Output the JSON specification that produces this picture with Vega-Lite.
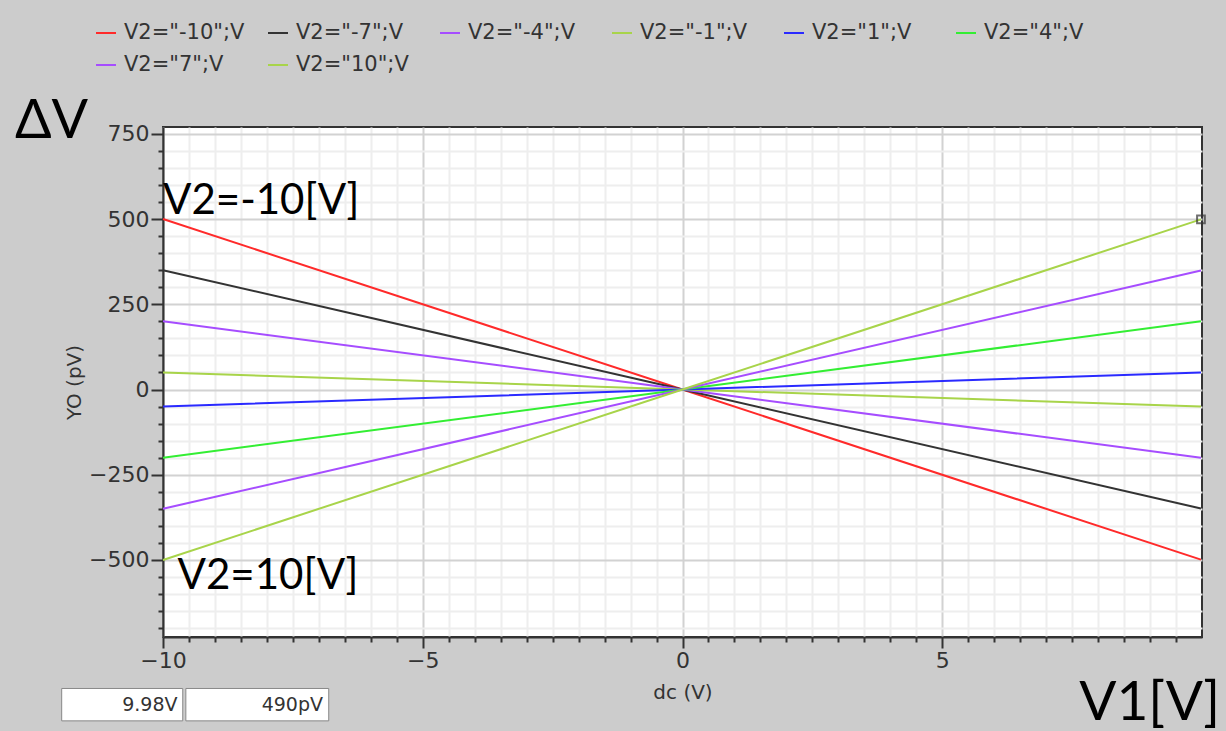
{
  "$schema": "https://vega.github.io/schema/vega-lite/v6.json",
  "autosize": {"type": "none"},
  "width": 1039,
  "height": 510,
  "padding": {"left": 163, "top": 127, "right": 24, "bottom": 94},
  "background": "#cccccc",
  "config": {
    "view": {"fill": "white", "stroke": "#333333", "strokeWidth": 2},
    "axis": {
      "labelFont": "DejaVu Sans", "labelFontSize": 22, "labelColor": "#333333",
      "titleFont": "DejaVu Sans", "titleFontSize": 20, "titleFontWeight": "normal", "titleColor": "#333333",
      "domainColor": "#333333", "domainWidth": 2, "tickColor": "#333333", "tickWidth": 2,
      "labelOverlap": false, "labelFlush": false
    },
    "legend": {
      "orient": "none", "legendX": -68, "legendY": -105, "columns": 6, "direction": "horizontal",
      "gridAlign": "all", "padding": 0, "symbolType": "stroke", "symbolStrokeWidth": 2, "symbolSize": 400,
      "labelFont": "DejaVu Sans", "labelFontSize": 21, "labelColor": "#333333", "labelOffset": 7,
      "columnPadding": 19, "rowPadding": 11, "labelLimit": 300
    }
  },
  "data": {"values": [
    {"series": "V2=\"-10\";V", "V1": -10, "dV": 500}, {"series": "V2=\"-10\";V", "V1": 0, "dV": 0}, {"series": "V2=\"-10\";V", "V1": 9.98, "dV": -499},
    {"series": "V2=\"-7\";V", "V1": -10, "dV": 350}, {"series": "V2=\"-7\";V", "V1": 0, "dV": 0}, {"series": "V2=\"-7\";V", "V1": 9.98, "dV": -349},
    {"series": "V2=\"-4\";V", "V1": -10, "dV": 200}, {"series": "V2=\"-4\";V", "V1": 0, "dV": 0}, {"series": "V2=\"-4\";V", "V1": 9.98, "dV": -200},
    {"series": "V2=\"-1\";V", "V1": -10, "dV": 50}, {"series": "V2=\"-1\";V", "V1": 0, "dV": 0}, {"series": "V2=\"-1\";V", "V1": 9.98, "dV": -50},
    {"series": "V2=\"1\";V", "V1": -10, "dV": -50}, {"series": "V2=\"1\";V", "V1": 0, "dV": 0}, {"series": "V2=\"1\";V", "V1": 9.98, "dV": 50},
    {"series": "V2=\"4\";V", "V1": -10, "dV": -200}, {"series": "V2=\"4\";V", "V1": 0, "dV": 0}, {"series": "V2=\"4\";V", "V1": 9.98, "dV": 200},
    {"series": "V2=\"7\";V", "V1": -10, "dV": -350}, {"series": "V2=\"7\";V", "V1": 0, "dV": 0}, {"series": "V2=\"7\";V", "V1": 9.98, "dV": 349},
    {"series": "V2=\"10\";V", "V1": -10, "dV": -500}, {"series": "V2=\"10\";V", "V1": 0, "dV": 0}, {"series": "V2=\"10\";V", "V1": 9.98, "dV": 499}
  ]},
  "layer": [
    {
      "mark": {"type": "line", "strokeWidth": 2},
      "encoding": {
        "x": {"field": "V1", "type": "quantitative",
          "scale": {"domain": [-10, 10], "nice": false, "zero": false},
          "axis": {"title": "dc (V)", "titlePadding": 11, "labelPadding": 2, "labelOverlap": false, "tickCount": 500, "format": ".0f",
            "values": [-10,-9.5,-9,-8.5,-8,-7.5,-7,-6.5,-6,-5.5,-5,-4.5,-4,-3.5,-3,-2.5,-2,-1.5,-1,-0.5,0,0.5,1,1.5,2,2.5,3,3.5,4,4.5,5,5.5,6,6.5,7,7.5,8,8.5,9,9.5],
            "labelExpr": "datum.value % 5 === 0 ? datum.label : ''",
            "tickSize": {"condition": {"test": "datum.value % 5 === 0", "value": 11}, "value": 5},
            "gridColor": {"condition": {"test": "datum.value % 5 === 0", "value": "#d2d2d2"}, "value": "#eeeeee"},
            "gridWidth": 2}},
        "y": {"field": "dV", "type": "quantitative",
          "scale": {"domain": [-726, 770], "nice": false, "zero": false},
          "axis": {"title": "YO (pV)", "titlePadding": 4, "labelPadding": 2, "labelOverlap": false, "tickCount": 500, "format": ".0f",
            "values": [-700,-650,-600,-550,-500,-450,-400,-350,-300,-250,-200,-150,-100,-50,0,50,100,150,200,250,300,350,400,450,500,550,600,650,700,750],
            "labelExpr": "datum.value % 250 === 0 ? datum.label : ''",
            "tickSize": {"condition": {"test": "datum.value % 250 === 0", "value": 12}, "value": 5},
            "gridColor": {"condition": {"test": "datum.value % 250 === 0", "value": "#d2d2d2"}, "value": "#eeeeee"},
            "gridWidth": 2}},
        "color": {"field": "series", "type": "nominal",
          "scale": {"domain": ["V2=\"-10\";V", "V2=\"-7\";V", "V2=\"-4\";V", "V2=\"-1\";V", "V2=\"1\";V", "V2=\"4\";V", "V2=\"7\";V", "V2=\"10\";V"],
            "range": ["#ff2a2a", "#333333", "#a64dff", "#a8d44a", "#2a2aff", "#33ee33", "#a64dff", "#a8d44a"]},
          "legend": {"title": null}}
      }
    },
    {
      "data": {"values": [{"V1": 9.98, "dV": 499}]},
      "mark": {"type": "point", "shape": "square", "filled": false, "stroke": "#333333", "strokeWidth": 2, "size": 60},
      "encoding": {"x": {"field": "V1", "type": "quantitative"}, "y": {"field": "dV", "type": "quantitative"}}
    },
    {
      "data": {"values": [{}]},
      "mark": {"type": "text", "text": "V2=-10[V]", "font": "Lato", "fontSize": 42, "align": "left", "baseline": "alphabetic", "color": "black"},
      "encoding": {"x": {"datum": -10}, "y": {"datum": 516}}
    },
    {
      "data": {"values": [{}]},
      "mark": {"type": "text", "text": "V2=10[V]", "font": "Lato", "fontSize": 42, "align": "left", "baseline": "alphabetic", "color": "black"},
      "encoding": {"x": {"datum": -9.72}, "y": {"datum": -586}}
    },
    {
      "data": {"values": [{}]},
      "mark": {"type": "text", "text": "ΔV", "font": "Lato", "fontSize": 54, "align": "left", "baseline": "alphabetic", "color": "black"},
      "encoding": {"x": {"datum": -12.85}, "y": {"datum": 738}}
    },
    {
      "data": {"values": [{}]},
      "mark": {"type": "text", "text": "V1[V]", "font": "Lato", "fontSize": 55, "align": "right", "baseline": "alphabetic", "color": "black"},
      "encoding": {"x": {"datum": 10.35}, "y": {"datum": -969}}
    },
    {
      "data": {"values": [{"a": -11.95, "b": -9.62}, {"a": -9.56, "b": -6.81}]},
      "mark": {"type": "rect", "fill": "white", "stroke": "#888888", "strokeWidth": 1},
      "encoding": {"x": {"field": "a", "type": "quantitative"}, "x2": {"field": "b"}, "y": {"datum": -877}, "y2": {"datum": -972}}
    },
    {
      "data": {"values": [{"t": "9.98V", "p": -9.72}, {"t": "490pV", "p": -6.92}]},
      "mark": {"type": "text", "font": "DejaVu Sans", "fontSize": 19, "align": "right", "baseline": "middle", "color": "#333333"},
      "encoding": {"x": {"field": "p", "type": "quantitative"}, "y": {"datum": -925}, "text": {"field": "t"}}
    }
  ]
}
